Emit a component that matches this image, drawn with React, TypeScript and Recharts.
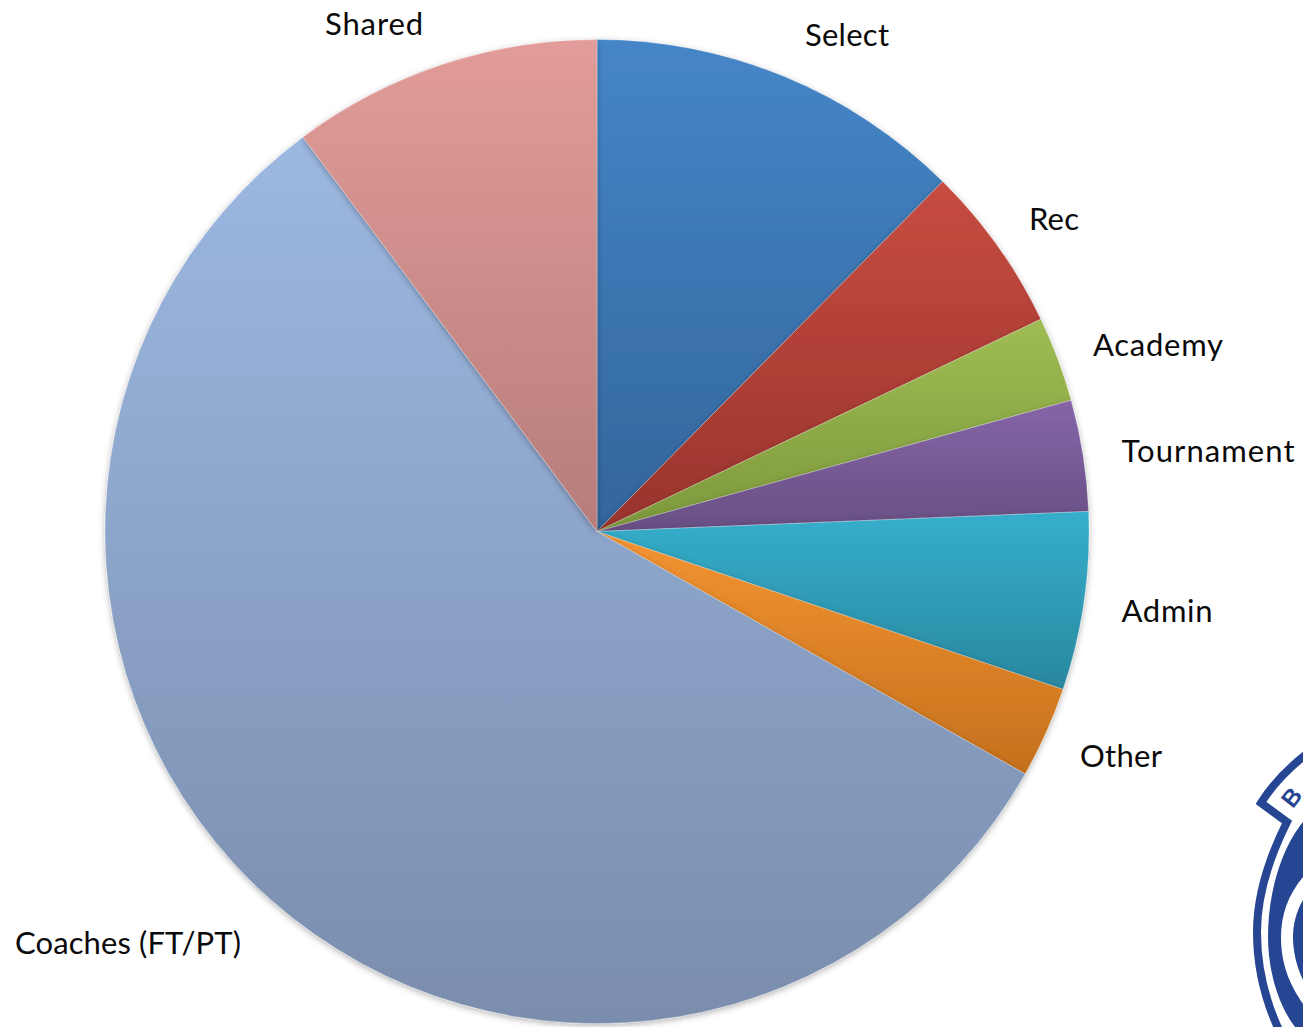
import { PieChart, Pie, Cell } from "recharts";

const categories = ["Select", "Rec", "Academy", "Tournament", "Admin", "Other", "Coaches (FT/PT)", "Shared"];
const shares = [12.4, 5.5, 2.8, 3.65, 5.85, 3.0, 56.6, 10.2];
const topColors = ["#4586c8", "#c74c41", "#9fbd53", "#8565a8", "#35afcc", "#f49432", "#9cb8e1", "#e29c99"];
const bottomColors = ["#33659b", "#98342c", "#7d983c", "#684f83", "#2a879f", "#c4701d", "#7a8dad", "#b67d7a"];

// label centres and widths
const labelX = [847, 1054, 1158, 1208, 1167, 1121, 128, 374];
const labelY = [34, 218, 344, 450, 610, 755, 942, 23];
const labelWidth = [84, 50, 130, 173, 91, 82, 226, 98];

const data = categories.map((name, i) => ({ name, value: shares[i] }));

function SliceLabel({ index }: any) {
  return (
    <text
      x={labelX[index]}
      y={labelY[index]}
      textAnchor="middle"
      dominantBaseline="central"
      fontFamily="Lato"
      fontSize={31}
      textLength={labelWidth[index]}
      lengthAdjust="spacing"
      fill="#0a0a0a"
    >
      {categories[index]}
    </text>
  );
}

function Crest() {
  const blue = "#264592";
  return (
    <svg width={1303} height={1027} style={{ position: "absolute", left: 0, top: 0 }}>
      <path
        d="M1308 753 Q1278 776 1261 803 L1287 822 C1268 860 1257 895 1257 932 C1257 970 1265 1000 1279 1030"
        fill="none"
        stroke={blue}
        strokeWidth={8}
      />
      <path d="M1303 822 C1280 850 1268 895 1268 937 C1268 970 1278 1005 1295 1027 L1303 1027 Z" fill={blue} />
      <path d="M1303 877 C1288 895 1281 915 1281 937 C1281 965 1290 985 1303 1004 Z" fill="#fff" />
      <path d="M1303 900 C1296 912 1293 925 1293 937 C1293 952 1297 968 1303 980 Z" fill={blue} />
      <text
        x={1291}
        y={806}
        textAnchor="middle"
        fontFamily="Liberation Sans"
        fontWeight="bold"
        fontSize={24}
        fill={blue}
        transform="rotate(-52 1291 797)"
      >
        B
      </text>
    </svg>
  );
}

export default function App() {
  return (
    <div style={{ position: "absolute", left: 0, top: 0, width: 1303, height: 1027, overflow: "hidden", background: "#fff" }}>
      <PieChart width={1303} height={1027} margin={{ top: 0, right: 0, bottom: 0, left: 0 }}>
        <defs>
          {categories.map((name, i) => (
            <linearGradient key={name} id={`slice-${i}`} x1="0" y1="0" x2="0" y2="1">
              <stop offset="0%" stopColor={topColors[i]} />
              <stop offset="100%" stopColor={bottomColors[i]} />
            </linearGradient>
          ))}
          <filter id="pie-shadow" x="-5%" y="-5%" width="110%" height="110%">
            <feDropShadow dx="0" dy="2" stdDeviation="3" floodColor="#000" floodOpacity="0.3" />
          </filter>
        </defs>
        <Pie
          data={data}
          dataKey="value"
          nameKey="name"
          cx={597}
          cy={531.5}
          outerRadius={492}
          startAngle={90}
          endAngle={-270}
          stroke="#ffffff"
          strokeOpacity={0.5}
          strokeWidth={0.5}
          label={SliceLabel}
          labelLine={false}
          isAnimationActive={false}
          style={{ filter: "url(#pie-shadow)" }}
        >
          {categories.map((name, i) => (
            <Cell key={name} fill={`url(#slice-${i})`} />
          ))}
        </Pie>
      </PieChart>
      <Crest />
    </div>
  );
}
